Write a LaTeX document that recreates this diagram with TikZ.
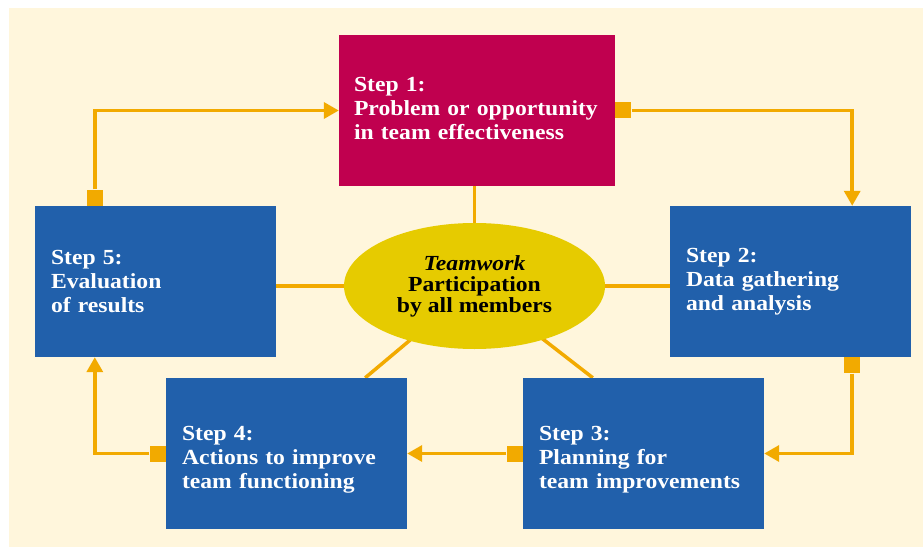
\documentclass[tikz,border=0pt]{standalone}
\usepackage{fontspec}
\setmainfont{Liberation Serif}[FakeStretch=1.1]
\usetikzlibrary{arrows.meta,shapes.geometric}
\pgfdeclarelayer{back}
\pgfdeclarelayer{mid}
\pgfsetlayers{back,mid,main}
\definecolor{cream}{HTML}{FFF6DC}
\definecolor{magent}{HTML}{C0004F}
\definecolor{boxblue}{HTML}{2160AB}
\definecolor{ellyellow}{HTML}{E6CB00}
\definecolor{conn}{HTML}{F2AA00}
\tikzset{
  stepbox/.style={rectangle, fill=boxblue, text=white, inner xsep=16pt, inner ysep=0pt,
    text width=209pt, minimum height=151pt, align=left,
    font=\bfseries\fontsize{21.5}{24}\selectfont},
  sq/.style={rectangle, fill=conn, inner sep=0pt, minimum width=16pt, minimum height=16pt},
  link/.style={draw=conn, line width=3.5pt},
  arr/.style={draw=conn, line width=3.5pt, -{Triangle[length=15pt,width=16pt]}},
}
\begin{document}
\begin{tikzpicture}[x=1pt,y=-1pt]
\useasboundingbox (0,0) rectangle (923,548);
\begin{pgfonlayer}{back}
\fill[cream] (9,8) rectangle (923,547);
\end{pgfonlayer}
\node[stepbox, fill=magent, inner xsep=15pt, text width=246pt] (s1) at (477,110.5)
  {Step 1:\\Problem or opportunity\\in team effectiveness\vspace*{4pt}};
\node[stepbox] (s5) at (155.5,281.5) {Step 5:\\Evaluation\\of results};
\node[stepbox] (s2) at (790.5,281.5) {Step 2:\\Data gathering\\and analysis};
\node[stepbox] (s4) at (286.5,453.5) {\rule{0pt}{26pt}Step 4:\\Actions to improve\\team functioning};
\node[stepbox] (s3) at (643.5,453.5) {\rule{0pt}{26pt}Step 3:\\Planning for\\team improvements};
\node[ellipse, fill=ellyellow, minimum width=261pt, minimum height=126pt, inner sep=0pt,
  align=center, font=\bfseries\fontsize{21.5}{21}\selectfont] (c) at (474.5,286)
  {\textit{Teamwork}\\Participation\\by all members};
\begin{pgfonlayer}{mid}
\draw[link] (c.center) -- (c.center |- s1.south);
\draw[link] (c.center) -- (c.center -| s5.east);
\draw[link] (c.center) -- (c.center -| s2.west);
\draw[link] (c.center) -- ([xshift=-42pt]s4.north east);
\draw[link] (c.center) -- ([xshift=70pt]s3.north west);
\end{pgfonlayer}
% squares
\node[sq, anchor=south] (q5) at ([xshift=60pt]s5.north west) {};
\node[sq, anchor=west] (q1) at (s1.east) {};
\node[sq, anchor=north] (q2) at ([xshift=-59pt]s2.south east) {};
\node[sq, anchor=east] (q3) at (s3.west) {};
\node[sq, anchor=east] (q4) at (s4.west) {};
\coordinate (t2) at ([xshift=-59pt]s2.north east);
\coordinate (t5) at ([xshift=60pt]s5.south west);
% arrows
\draw[arr] (q5.north) |- (s1.west);
\draw[arr] (q1.east) -| (t2);
\draw[arr] (q2.south) |- (s3.east);
\draw[arr] (q3.west) -- (s4.east);
\draw[arr] (q4.west) -| (t5);
\end{tikzpicture}
\end{document}
